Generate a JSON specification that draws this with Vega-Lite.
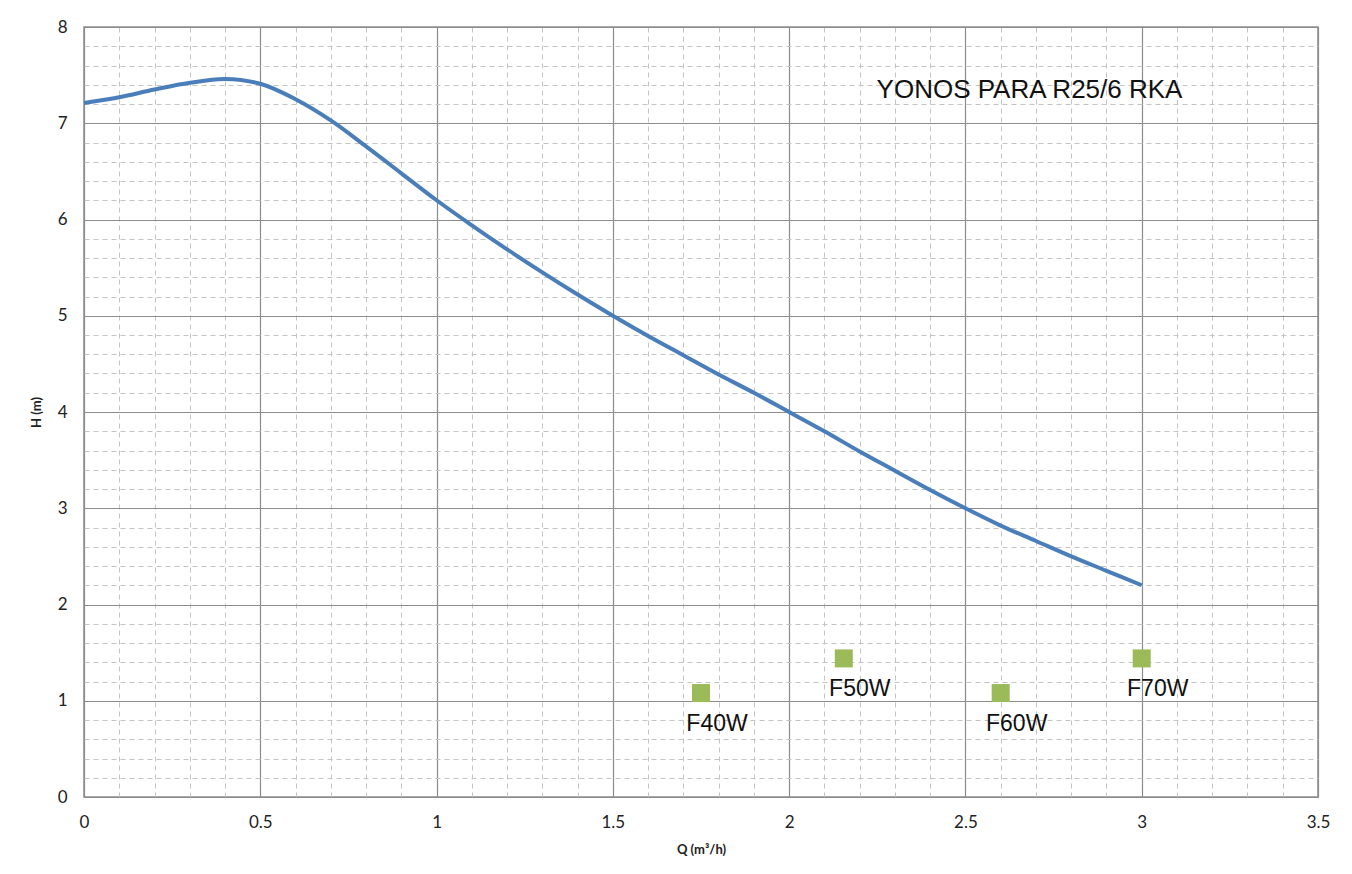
{
  "$schema": "https://vega.github.io/schema/vega-lite/v6.json",
  "width": 1234,
  "height": 770,
  "autosize": {"type": "none"},
  "padding": {"left": 84, "top": 27, "right": 34, "bottom": 77},
  "background": "white",
  "config": {
    "view": {"stroke": "#8c8c8c", "strokeWidth": 1.5},
    "axis": {"ticks": false, "domain": false, "labelFont": "Lato", "labelFontSize": 17, "labelColor": "#222222", "titleFont": "Lato", "titleColor": "#222222", "labelFlush": false}
  },
  "datasets": {
    "curve": [
      {"q": 0.0, "h": 7.21}, {"q": 0.1, "h": 7.27}, {"q": 0.2, "h": 7.35}, {"q": 0.3, "h": 7.42},
      {"q": 0.4, "h": 7.46}, {"q": 0.5, "h": 7.41}, {"q": 0.6, "h": 7.25}, {"q": 0.7, "h": 7.03},
      {"q": 0.8, "h": 6.76}, {"q": 0.9, "h": 6.48}, {"q": 1.0, "h": 6.2}, {"q": 1.1, "h": 5.94},
      {"q": 1.2, "h": 5.69}, {"q": 1.3, "h": 5.45}, {"q": 1.4, "h": 5.22}, {"q": 1.5, "h": 5.0},
      {"q": 1.6, "h": 4.79}, {"q": 1.7, "h": 4.59}, {"q": 1.8, "h": 4.39}, {"q": 1.9, "h": 4.2},
      {"q": 2.0, "h": 4.0}, {"q": 2.1, "h": 3.8}, {"q": 2.2, "h": 3.59}, {"q": 2.3, "h": 3.39},
      {"q": 2.4, "h": 3.19}, {"q": 2.5, "h": 3.0}, {"q": 2.6, "h": 2.82}, {"q": 2.7, "h": 2.66},
      {"q": 2.8, "h": 2.5}, {"q": 2.9, "h": 2.35}, {"q": 3.0, "h": 2.2}
    ],
    "points": [
      {"q": 1.75, "h": 1.08, "label": "F40W"},
      {"q": 2.155, "h": 1.44, "label": "F50W"},
      {"q": 2.6, "h": 1.08, "label": "F60W"},
      {"q": 3.0, "h": 1.44, "label": "F70W"}
    ],
    "title": [
      {"q": 2.248, "h": 7.35, "label": "YONOS PARA R25/6 RKA"}
    ]
  },
  "resolve": {"axis": {"x": "independent", "y": "independent"}},
  "layer": [
    {
      "data": {"name": "curve"},
      "mark": {"type": "line", "opacity": 0},
      "encoding": {
        "x": {"field": "q", "type": "quantitative", "scale": {"domain": [0, 3.5], "nice": false, "zero": false},
          "axis": {"orient": "bottom", "labels": false, "title": null, "grid": true, "gridDash": [5, 4], "gridColor": "#c4c4c4", "gridWidth": 1,
            "values": [0.1,0.2,0.3,0.4,0.6,0.7,0.8,0.9,1.1,1.2,1.3,1.4,1.6,1.7,1.8,1.9,2.1,2.2,2.3,2.4,2.6,2.7,2.8,2.9,3.1,3.2,3.3,3.4]}},
        "y": {"field": "h", "type": "quantitative", "scale": {"domain": [0, 8], "nice": false, "zero": false},
          "axis": {"orient": "left", "labels": false, "title": null, "grid": true, "gridDash": [5, 4], "gridColor": "#c4c4c4", "gridWidth": 1,
            "values": [0.2,0.4,0.6,0.8,1.2,1.4,1.6,1.8,2.2,2.4,2.6,2.8,3.2,3.4,3.6,3.8,4.2,4.4,4.6,4.8,5.2,5.4,5.6,5.8,6.2,6.4,6.6,6.8,7.2,7.4,7.6,7.8]}}
      }
    },
    {
      "data": {"name": "curve"},
      "mark": {"type": "line", "interpolate": "catmull-rom", "color": "#4a7ebb", "strokeWidth": 4},
      "encoding": {
        "x": {"field": "q", "type": "quantitative",
          "axis": {"orient": "bottom", "grid": true, "gridColor": "#8c8c8c", "gridWidth": 1.2, "values": [0, 0.5, 1, 1.5, 2, 2.5, 3, 3.5], "format": "~g",
            "labelPadding": 17, "title": "Q (m³/h)", "titleFontSize": 13, "titleFontWeight": "bold", "titlePadding": 13}},
        "y": {"field": "h", "type": "quantitative",
          "axis": {"orient": "left", "grid": true, "gridColor": "#8c8c8c", "gridWidth": 1.2, "values": [0, 1, 2, 3, 4, 5, 6, 7, 8], "format": "d",
            "labelPadding": 17, "title": "H (m)", "titleFontSize": 13, "titleFontWeight": "bold", "titlePadding": 14}}
      }
    },
    {
      "data": {"name": "points"},
      "mark": {"type": "point", "shape": "square", "filled": true, "color": "#9bbb59", "size": 324, "opacity": 1},
      "encoding": {
        "x": {"field": "q", "type": "quantitative", "axis": null},
        "y": {"field": "h", "type": "quantitative", "axis": null}
      }
    },
    {
      "data": {"name": "points"},
      "mark": {"type": "text", "font": "Liberation Sans", "fontSize": 23, "color": "#111111", "align": "center", "baseline": "middle", "dx": 16, "dy": 31},
      "encoding": {
        "x": {"field": "q", "type": "quantitative", "axis": null},
        "y": {"field": "h", "type": "quantitative", "axis": null},
        "text": {"field": "label"}
      }
    },
    {
      "data": {"name": "title"},
      "mark": {"type": "text", "font": "Liberation Sans", "fontSize": 26, "color": "#111111", "align": "left", "baseline": "middle"},
      "encoding": {
        "x": {"field": "q", "type": "quantitative", "axis": null},
        "y": {"field": "h", "type": "quantitative", "axis": null},
        "text": {"field": "label"}
      }
    }
  ]
}
